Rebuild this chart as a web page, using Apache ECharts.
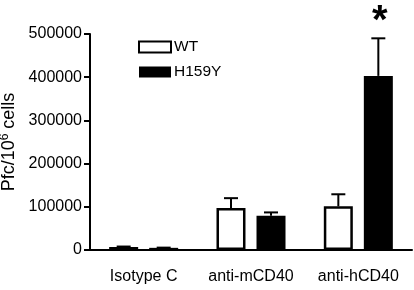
<!DOCTYPE html>
<html><head><meta charset="utf-8">
<script src="https://cdn.jsdelivr.net/npm/echarts@6/dist/echarts.min.js"></script>
<style>html,body{margin:0;padding:0;background:#fff}#c{width:414px;height:290px}</style>
</head><body><div id="c"></div>
<script>
const categories = ['Isotype C', 'anti-mCD40', 'anti-hCD40'];
const wtValues = [7000, 97000, 101000];
const wtErrTop = [8000, 120000, 129000];
const mutValues = [5000, 79000, 403000];
const mutErrTop = [5500, 87000, 490000];
const yTicks = [0, 100000, 200000, 300000, 400000, 500000];

const chart = echarts.init(document.getElementById('c'));
const FONT = 'Liberation Sans, Arial, sans-serif';
const BAR_W = 29, OFFSET = 20;

function errRender(offset, tops, vals) {
  return function (params, api) {
    const i = api.value(0);
    const base = api.coord([i, vals[i]]);
    const top = api.coord([i, tops[i]]);
    const x = base[0] + offset;
    return {
      type: 'group',
      children: [
        {type: 'line', shape: {x1: x, y1: base[1], x2: x, y2: top[1]}, style: {stroke: '#000', lineWidth: 2}},
        {type: 'line', shape: {x1: x - 7, y1: top[1], x2: x + 7, y2: top[1]}, style: {stroke: '#000', lineWidth: 2}}
      ]
    };
  };
}

chart.setOption({
  animation: false,
  grid: {left: 90, right: 2, top: 34, bottom: 40, outerBoundsMode: 'none', containLabel: false},
  legend: {
    orient: 'vertical', left: 133, top: 34, itemWidth: 32, itemHeight: 11, itemGap: 9,
    icon: 'rect',
    data: ['WT', 'H159Y'],
    textStyle: {fontFamily: FONT, fontSize: 15.5, color: '#000', padding: [0, 0, 0, -2]}
  },
  xAxis: {
    type: 'category', data: categories,
    axisLine: {lineStyle: {color: '#000', width: 2}},
    axisTick: {alignWithLabel: true, length: 5, lineStyle: {color: '#000', width: 2}},
    axisLabel: {fontFamily: FONT, fontSize: 16, color: '#000', margin: 19, interval: 0, hideOverlap: false}
  },
  yAxis: {
    type: 'value', min: 0, max: 500000, interval: 100000,
    name: '{a|Pfc/10}{s|6}{a| cells}', nameLocation: 'middle', nameGap: 64, nameRotate: 90,
    nameTextStyle: {rich: {a: {fontFamily: FONT, fontSize: 18, color: '#000'}, s: {fontFamily: FONT, fontSize: 12, color: '#000', verticalAlign: 'top', padding: [0, 0, 8, 0]}}},
    axisLine: {show: true, lineStyle: {color: '#000', width: 2}},
    axisTick: {show: true, length: 6, lineStyle: {color: '#000', width: 2}},
    splitLine: {show: false},
    axisLabel: {fontFamily: FONT, fontSize: 16, color: '#000', margin: 8,
      formatter: v => yTicks.includes(v) ? String(v) : ''}
  },
  series: [
    {name: 'WT', type: 'bar', data: wtValues, barWidth: BAR_W, barGap: '38%',
      itemStyle: {color: '#fff', borderColor: '#000', borderWidth: 2.5}},
    {name: 'H159Y', type: 'bar', data: mutValues, barWidth: BAR_W,
      itemStyle: {color: '#000', borderColor: '#000', borderWidth: 0}},
    {type: 'custom', data: categories.map((c, i) => [i]), renderItem: errRender(-OFFSET, wtErrTop, wtValues), z: 1},
    {type: 'custom', data: categories.map((c, i) => [i]), renderItem: errRender(OFFSET, mutErrTop, mutValues), z: 1}
  ],
  graphic: [{type: 'text', left: 372, top: 2, style: {text: '*', font: 'bold 40px ' + FONT, fill: '#000'}}]
});
</script></body></html>
